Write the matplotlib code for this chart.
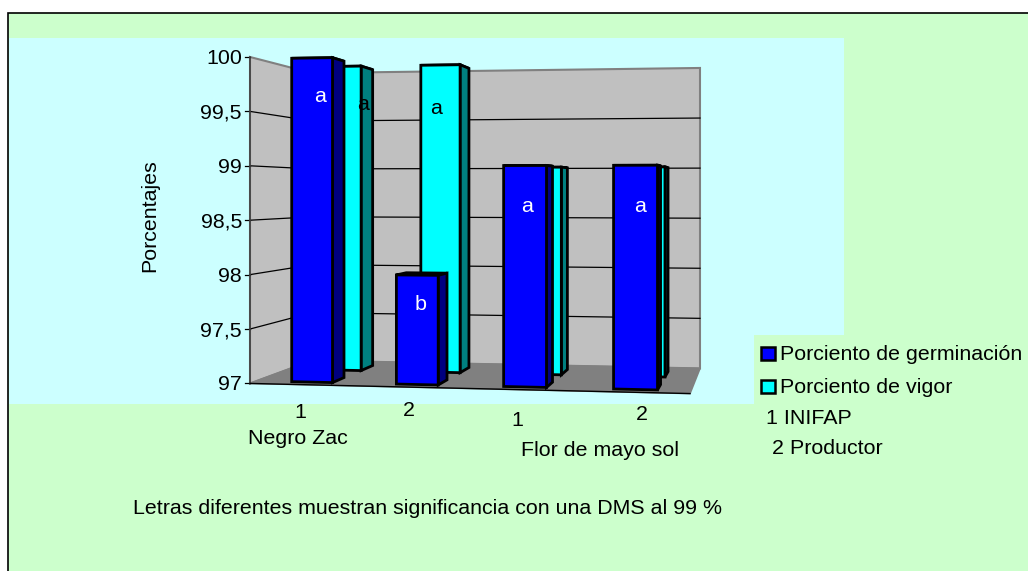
import numpy as np
import matplotlib
matplotlib.use("Agg")
import matplotlib.pyplot as plt
from matplotlib.patches import Rectangle

plt.rcParams['font.family'] = ['Liberation Sans', 'DejaVu Sans']

# data
germinacion = [100, 98, 99, 99]
vigor = [100, 100, 99, 99]
letras_germinacion = ['a', 'b', 'a', 'a']
letras_vigor = ['a', 'a']
ticks = [97, 97.5, 98, 98.5, 99, 99.5, 100]
tick_labels = ['97', '97,5', '98', '98,5', '99', '99,5', '100']
cat_labels = ['1', '2', '1', '2']
group_labels = ['Negro Zac', 'Flor de mayo sol']
series_names = ['Porciento de germinación', 'Porciento de vigor']
notes = ['1 INIFAP', ' 2 Productor']
nota = 'Letras diferentes muestran significancia con una DMS al 99 %'

# text placement, these labels were put by hand in the original
germ_letter_xy = [(320, 97), (421, 304), (527, 206), (640, 206)]
vig_letter_xy = [(363, 104), (436, 109)]
cat_label_xy = [(300, 413), (409, 411), (517, 421), (642, 414)]
group_label_xy = [(298, 439), (600, 451)]

W, H = 1028, 571
FS = 15.4
GREEN = '#CCFFCC'
PALE = '#CCFFFF'
VMIN, VMAX = 97, 100

# camera, fitted from corners of the box: (category, value, depth) -> pixel
corners = [((0, 97, 0), (250, 383)), ((0, 100, 0), (250, 57)),
           ((4, 97, 0), (690, 394)), ((0, 97, 1), (312, 361)),
           ((0, 100, 1), (312, 73)), ((4, 97, 1), (700, 368)),
           ((4, 100, 1), (700, 68))]


def fit_camera(pairs):
    rows = []
    for (x, y, z), (u, v) in pairs:
        rows.append([x, y, z, 1, 0, 0, 0, 0, -u*x, -u*y, -u*z, -u])
        rows.append([0, 0, 0, 0, x, y, z, 1, -v*x, -v*y, -v*z, -v])
    return np.linalg.svd(np.array(rows, float))[2][-1].reshape(3, 4)


P = fit_camera(corners)


def proj(x, y, z):
    p = P @ np.array([x, y, z, 1.0])
    return p[0]/p[2], p[1]/p[2]


def quad(ax, pts, fc, ec='black', lw=1.0, zorder=2):
    ax.fill(*zip(*[proj(*p) for p in pts]), fc=fc, ec=ec, lw=lw, zorder=zorder,
            joinstyle='miter')


def bar3d(ax, center, value, z0, z1, front, side, zorder):
    x0, x1 = center - BAR/2, center + BAR/2
    lw = 2.0
    quad(ax, [(x0, value, z0), (x1, value, z0), (x1, value, z1), (x0, value, z1)],
         side, lw=lw, zorder=zorder)
    quad(ax, [(x1, VMIN, z0), (x1, VMIN, z1), (x1, value, z1), (x1, value, z0)],
         side, lw=lw, zorder=zorder)
    quad(ax, [(x0, VMIN, z0), (x1, VMIN, z0), (x1, value, z0), (x0, value, z0)],
         front, lw=lw, zorder=zorder)


BAR = 0.39
Z_GERM = (0.10, 0.30)
Z_VIG = (0.60, 0.83)

fig = plt.figure(figsize=(W/100, H/100), dpi=100, facecolor='white')
ax = fig.add_axes([0, 0, 1, 1])
ax.set_xlim(0, W)
ax.set_ylim(H, 0)
ax.axis('off')

# backgrounds
ax.add_patch(Rectangle((8, 13), W, H, fc=GREEN, ec='black', lw=1.2, zorder=0))
ax.add_patch(Rectangle((9, 38), 835, 366, fc=PALE, ec='none', zorder=0.5))
ax.add_patch(Rectangle((754, 335), 100, 80, fc=GREEN, ec='none', zorder=0.6))

# walls and floor
quad(ax, [(0, 97, 0), (0, 100, 0), (0, 100, 1), (0, 97, 1)], '#C0C0C0', ec='#808080', lw=1.5, zorder=1)
quad(ax, [(0, 97, 1), (0, 100, 1), (4, 100, 1), (4, 97, 1)], '#C0C0C0', ec='#808080', lw=1.5, zorder=1)
quad(ax, [(0, 97, 0), (4, 97, 0), (4, 97, 1), (0, 97, 1)], '#808080', ec='#808080', lw=1.2, zorder=1)

for t, lab in zip(ticks, tick_labels):
    a, b, c = proj(0, t, 0), proj(0, t, 1), proj(4, t, 1)
    if VMIN < t < VMAX:
        ax.plot([a[0], b[0], c[0]], [a[1], b[1], c[1]], color='black', lw=0.9, zorder=1.5)
    ax.plot([a[0]-5, a[0]], [a[1], a[1]], color='black', lw=0.9, zorder=1.5)
    ax.text(a[0]-8, a[1] + 1.5, lab, ha='right', va='center', fontsize=FS, color='black')
ax.plot(*zip(proj(0, 97, 0), proj(0, 100, 0)), color='#404040', lw=1.2, zorder=1.6)
ax.plot(*zip(proj(0, 97, 0), proj(4, 97, 0)), color='black', lw=1.0, zorder=1.6)

# back row first, then front row
for i, v in enumerate(vigor):
    bar3d(ax, 0.54 + 0.99*i, v, Z_VIG[0], Z_VIG[1], '#00FFFF', '#008080', 3)
for i, v in enumerate(germinacion):
    bar3d(ax, 0.53 + 0.993*i, v, Z_GERM[0], Z_GERM[1], '#0000FF', '#000080', 4)

for lab, (x, y) in zip(letras_germinacion, germ_letter_xy):
    ax.text(x, y, lab, ha='center', va='center', fontsize=FS, color='white', zorder=6)
for lab, (x, y) in zip(letras_vigor, vig_letter_xy):
    ax.text(x, y, lab, ha='center', va='center', fontsize=FS, color='black', zorder=6)

# category labels
for lab, (x, y) in zip(cat_labels, cat_label_xy):
    ax.text(x, y, lab, ha='center', va='center', fontsize=FS)
for lab, (x, y) in zip(group_labels, group_label_xy):
    ax.text(x, y, lab, ha='center', va='center', fontsize=FS)
ax.text(150, 216, 'Porcentajes', rotation=90, ha='center', va='center', fontsize=FS)

# legend
colors = ['#0000FF', '#00FFFF']
for name, c, y in zip(series_names, colors, [353, 386]):
    ax.add_patch(Rectangle((761, y-6.5), 14, 13, fc=c, ec='black', lw=1.8, zorder=3))
    ax.text(780, y + 1.5, name, ha='left', va='center', fontsize=FS)
ax.text(766, 419, notes[0], ha='left', va='center', fontsize=FS)
ax.text(766, 448, notes[1], ha='left', va='center', fontsize=FS)

ax.text(133, 509, nota, ha='left', va='center', fontsize=FS)

fig.savefig('out.png', dpi=100, facecolor='white')
